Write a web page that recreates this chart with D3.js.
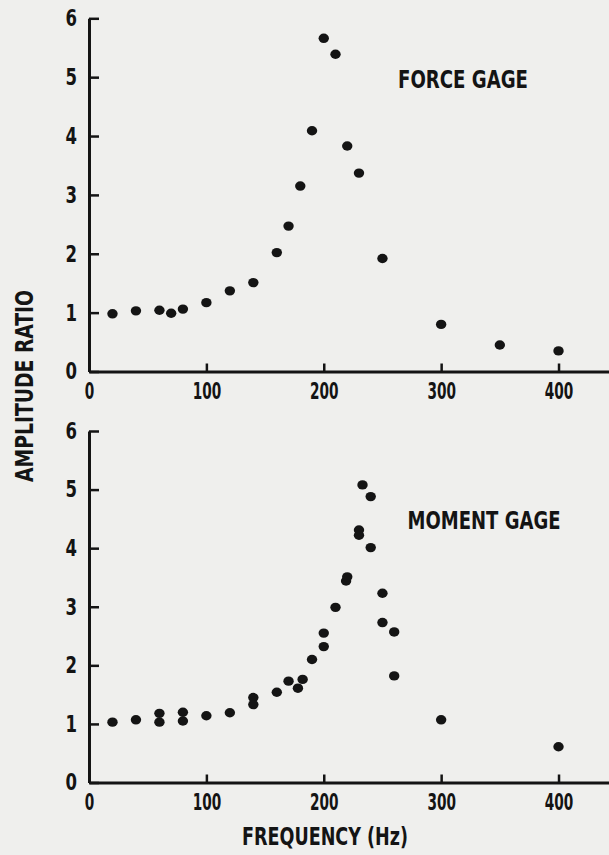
<!DOCTYPE html>
<html>
<head>
<meta charset="utf-8">
<script src="https://cdn.jsdelivr.net/npm/d3@7/dist/d3.min.js"></script>
<style>
  html, body { margin: 0; padding: 0; background: #efefed; }
  svg { display: block; }
  text { font-family: "DejaVu Sans Condensed", "Liberation Sans Narrow", "Liberation Sans", sans-serif; font-weight: bold; fill: #141414; }
</style>
</head>
<body>
<svg id="chart" width="609" height="855"></svg>
<script>
// ---- Data ----
const xTicks = [0, 100, 200, 300, 400];
const yTicks = [0, 1, 2, 3, 4, 5, 6];

// Force gage: frequency (Hz) and amplitude ratio
const forceFreq  = [20, 40, 60, 70, 80, 100, 120, 140, 160, 170, 180, 190, 200, 210, 220, 230, 250, 300, 350, 400];
const forceRatio = [0.98, 1.03, 1.04, 0.99, 1.06, 1.17, 1.37, 1.51, 2.02, 2.47, 3.15, 4.09, 5.66, 5.39, 3.83, 3.37, 1.92, 0.80, 0.45, 0.35];

// Moment gage: frequency (Hz) and amplitude ratio
const momentFreq  = [20, 40, 60, 60, 80, 80, 100, 120, 140, 140, 160, 170, 178, 182, 190, 200, 200, 210, 219, 220, 230, 230, 233, 240, 240, 250, 250, 260, 260, 300, 400];
const momentRatio = [1.03, 1.07, 1.18, 1.03, 1.20, 1.05, 1.14, 1.19, 1.45, 1.33, 1.54, 1.73, 1.61, 1.76, 2.10, 2.32, 2.55, 2.99, 3.44, 3.51, 4.31, 4.22, 5.08, 4.88, 4.01, 3.23, 2.73, 2.57, 1.82, 1.07, 0.61];

const panelLabels = ["FORCE GAGE", "MOMENT GAGE"];
const xTitle = "FREQUENCY (Hz)";
const yTitle = "AMPLITUDE RATIO";

// ---- Drawing ----
const svg = d3.select("#chart");
const ink = "#141414";

const x = d3.scaleLinear().domain([0, 443]).range([89, 609]);

const panels = [
  { freq: forceFreq, ratio: forceRatio, y: d3.scaleLinear().domain([0, 6]).range([371.5, 18.3]), label: panelLabels[0], lx: 463, ly: 88, lw: 130 },
  { freq: momentFreq, ratio: momentRatio, y: d3.scaleLinear().domain([0, 6]).range([782.5, 431]), label: panelLabels[1], lx: 484, ly: 529, lw: 153 }
];

panels.forEach(p => {
  const g = svg.append("g");

  // x axis
  const xa = g.append("g")
    .attr("transform", `translate(0,${p.y(0)})`)
    .call(d3.axisBottom(x).tickValues(xTicks).tickSizeInner(-8).tickSizeOuter(0).tickPadding(11).tickFormat(d3.format("d")));
  xa.select(".domain").attr("stroke", ink).attr("stroke-width", 3);
  xa.selectAll(".tick line").attr("stroke", ink).attr("stroke-width", 2.5);
  xa.selectAll(".tick text").attr("fill", ink).style("font-size", "23px")
    .attr("textLength", d => String(d).length * 9.5)
    .attr("lengthAdjust", "spacingAndGlyphs");

  // y axis
  const ya = g.append("g")
    .attr("transform", `translate(${x(0)},0)`)
    .call(d3.axisLeft(p.y).tickValues(yTicks).tickSizeInner(-10).tickSizeOuter(0).tickPadding(12).tickFormat(d3.format("d")));
  ya.select(".domain").attr("stroke", ink).attr("stroke-width", 3);
  ya.selectAll(".tick line").attr("stroke", ink).attr("stroke-width", 2.5);
  ya.selectAll(".tick text").attr("fill", ink).style("font-size", "23px")
    .attr("textLength", 11.5).attr("lengthAdjust", "spacingAndGlyphs");

  // points
  g.selectAll("ellipse.pt")
    .data(d3.zip(p.freq, p.ratio))
    .join("ellipse")
    .attr("class", "pt")
    .attr("cx", d => x(d[0]))
    .attr("cy", d => p.y(d[1]))
    .attr("rx", 5.2)
    .attr("ry", 4.7)
    .attr("fill", ink);

  // panel label
  g.append("text")
    .attr("x", p.lx)
    .attr("y", p.ly)
    .attr("text-anchor", "middle")
    .style("font-size", "25px")
    .attr("textLength", p.lw)
    .attr("lengthAdjust", "spacingAndGlyphs")
    .text(p.label);
});

// axis titles
svg.append("text")
  .attr("x", 325)
  .attr("y", 845)
  .attr("text-anchor", "middle")
  .style("font-size", "25px")
  .attr("textLength", 166)
  .attr("lengthAdjust", "spacingAndGlyphs")
  .text(xTitle);

svg.append("text")
  .attr("transform", "translate(33,386) rotate(-90)")
  .attr("text-anchor", "middle")
  .style("font-size", "24px")
  .attr("textLength", 192)
  .attr("lengthAdjust", "spacingAndGlyphs")
  .text(yTitle);
</script>
</body>
</html>
